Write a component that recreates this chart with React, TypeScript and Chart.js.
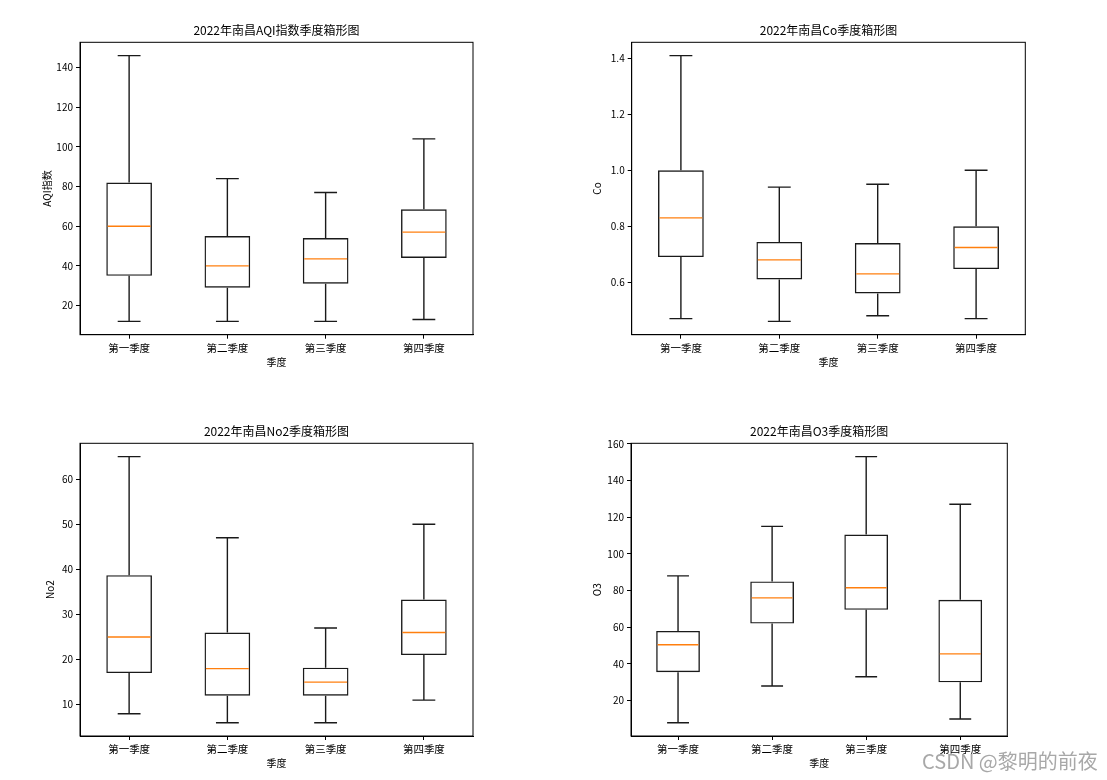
import React, { useEffect, useRef } from 'react';
import { Chart, registerables } from 'chart.js';

Chart.register(...registerables);

const FONT = '"Noto Sans CJK SC", "DejaVu Sans", sans-serif';

// ---- data ----
const categories = ['第一季度', '第二季度', '第三季度', '第四季度'];

const aqiMin = [12, 12, 12, 13];
const aqiQ1 = [35, 29, 31, 44];
const aqiMed = [60, 40, 43.5, 57];
const aqiQ3 = [82, 55, 54, 68.5];
const aqiMax = [146, 84, 77, 104];
const aqiTicks = [20, 40, 60, 80, 100, 120, 140];

const coMin = [0.47, 0.46, 0.48, 0.47];
const coQ1 = [0.69, 0.61, 0.56, 0.647];
const coMed = [0.83, 0.68, 0.63, 0.724];
const coQ3 = [1.0, 0.744, 0.74, 0.8];
const coMax = [1.41, 0.94, 0.95, 1.0];
const coTicks = [0.6, 0.8, 1.0, 1.2, 1.4];

const no2Min = [8, 6, 6, 11];
const no2Q1 = [17, 12, 12, 21];
const no2Med = [25, 18, 15, 26];
const no2Q3 = [38.7, 26, 18.2, 33.3];
const no2Max = [65, 47, 27, 50];
const no2Ticks = [10, 20, 30, 40, 50, 60];

const o3Min = [8, 28, 33, 10];
const o3Q1 = [35.5, 62, 69.5, 30];
const o3Med = [50.5, 76, 81.5, 45.5];
const o3Q3 = [58, 85, 110.5, 75];
const o3Max = [88, 115, 153, 127];
const o3Ticks = [20, 40, 60, 80, 100, 120, 140, 160];

const LINE = '#1a1a1a';
const LW = 1.4;

// ---- layout specs (positions only) ----
const specs = [
  {
    key: 'aqi', title: '2022年南昌AQI指数季度箱形图', yTitle: 'AQI指数',
    min: aqiMin, q1: aqiQ1, med: aqiMed, q3: aqiQ3, max: aqiMax, ticks: aqiTicks,
    yMin: 5.3, yMax: 152.7, decimals: 0,
    x: 0, y: 0, w: 553, h: 390,
    padL: 41, yWidth: 39, padR: 80, padB: 15.3, titleTop: 22.8, titleBottom: 5.1,
  },
  {
    key: 'co', title: '2022年南昌Co季度箱形图', yTitle: 'Co',
    min: coMin, q1: coQ1, med: coMed, q3: coQ3, max: coMax, ticks: coTicks,
    yMin: 0.4125, yMax: 1.4575, decimals: 1,
    x: 553, y: 0, w: 554, h: 390,
    padL: 38.7, yWidth: 40, padR: 81.7, padB: 15.3, titleTop: 22.8, titleBottom: 5.1,
  },
  {
    key: 'no2', title: '2022年南昌No2季度箱形图', yTitle: 'No2',
    min: no2Min, q1: no2Q1, med: no2Med, q3: no2Q3, max: no2Max, ticks: no2Ticks,
    yMin: 3.05, yMax: 67.95, decimals: 0,
    x: 0, y: 390, w: 553, h: 390,
    padL: 44, yWidth: 36, padR: 80, padB: 4, titleTop: 34.5, titleBottom: 4.4,
  },
  {
    key: 'o3', title: '2022年南昌O3季度箱形图', yTitle: 'O3',
    min: o3Min, q1: o3Q1, med: o3Med, q3: o3Q3, max: o3Max, ticks: o3Ticks,
    yMin: 0.75, yMax: 160.25, decimals: 0,
    x: 553, y: 390, w: 554, h: 390,
    padL: 38.7, yWidth: 39.3, padR: 99.7, padB: 4, titleTop: 34.5, titleBottom: 4.4,
  },
];

function makeBoxPlugin(s: any) {
  return {
    id: 'boxWhiskers_' + s.key,
    afterDatasetsDraw(chart: any) {
      const { ctx } = chart;
      const yScale = chart.scales.y;
      const meta = chart.getDatasetMeta(0);
      ctx.save();
      ctx.lineWidth = LW;
      meta.data.forEach((bar: any, i: number) => {
        const x = bar.x;
        const w = bar.width;
        const yMin = yScale.getPixelForValue(s.min[i]);
        const yQ1 = yScale.getPixelForValue(s.q1[i]);
        const yMed = yScale.getPixelForValue(s.med[i]);
        const yQ3 = yScale.getPixelForValue(s.q3[i]);
        const yMax = yScale.getPixelForValue(s.max[i]);
        ctx.strokeStyle = LINE;
        ctx.beginPath();
        ctx.moveTo(x, yQ3);
        ctx.lineTo(x, yMax);
        ctx.moveTo(x, yQ1);
        ctx.lineTo(x, yMin);
        ctx.moveTo(x - w / 4, yMax);
        ctx.lineTo(x + w / 4, yMax);
        ctx.moveTo(x - w / 4, yMin);
        ctx.lineTo(x + w / 4, yMin);
        ctx.stroke();
        ctx.strokeStyle = '#ff7f0e';
        ctx.beginPath();
        ctx.moveTo(x - w / 2 + LW, yMed);
        ctx.lineTo(x + w / 2 - LW, yMed);
        ctx.stroke();
      });
      const a = chart.chartArea;
      ctx.lineWidth = 1;
      ctx.strokeStyle = '#000';
      ctx.strokeRect(a.left, a.top, a.right - a.left, a.bottom - a.top);
      ctx.restore();
    },
  };
}

function BoxChart({ s }: { s: any }) {
  const ref = useRef<HTMLCanvasElement | null>(null);
  useEffect(() => {
    if (!ref.current) return;
    const chart = new Chart(ref.current, {
      type: 'bar',
      data: {
        labels: categories,
        datasets: [
          {
            data: s.q1.map((v: number, i: number) => [v, s.q3[i]]),
            backgroundColor: 'rgba(255,255,255,0)',
            borderColor: LINE,
            borderWidth: LW,
            borderSkipped: false,
            barPercentage: 0.465,
            categoryPercentage: 1,
          } as any,
        ],
      },
      options: {
        animation: false,
        responsive: false,
        devicePixelRatio: 1,
        events: [],
        layout: { padding: { left: s.padL, right: s.padR, top: 0, bottom: s.padB } },
        plugins: {
          legend: { display: false },
          tooltip: { enabled: false },
          title: {
            display: true,
            text: s.title,
            fullSize: false,
            color: '#000',
            font: { family: FONT, size: 12, weight: 'normal' },
            padding: { top: s.titleTop, bottom: s.titleBottom },
          },
        },
        scales: {
          x: {
            type: 'category',
            grid: { offset: false, drawOnChartArea: false, drawTicks: true, tickLength: 4, color: '#000' },
            border: { display: true, color: '#000' },
            ticks: { color: '#000', font: { family: FONT, size: 10.5 }, padding: 3, maxRotation: 0, autoSkip: false },
            title: {
              display: true,
              text: '季度',
              color: '#000',
              font: { family: FONT, size: 10 },
              padding: { top: 0, bottom: 6.7 },
            },
            afterFit: (sc: any) => { sc.height = 40; },
          },
          y: {
            type: 'linear',
            min: s.yMin,
            max: s.yMax,
            afterBuildTicks: (sc: any) => { sc.ticks = s.ticks.map((v: number) => ({ value: v })); },
            grid: { drawOnChartArea: false, drawTicks: true, tickLength: 4, color: '#000' },
            border: { display: true, color: '#000' },
            ticks: {
              color: '#000',
              font: { family: FONT, size: 10 },
              padding: 3,
              callback: (v: any) => Number(v).toFixed(s.decimals),
            },
            title: {
              display: true,
              text: s.yTitle,
              color: '#000',
              font: { family: FONT, size: 10 },
              padding: { top: 0, bottom: 0 },
            },
            afterFit: (sc: any) => { sc.width = s.yWidth; },
          },
        },
      } as any,
      plugins: [makeBoxPlugin(s)],
    });
    return () => chart.destroy();
  }, []);
  return (
    <canvas
      ref={ref}
      width={s.w}
      height={s.h}
      style={{ position: 'absolute', left: s.x, top: s.y, width: s.w, height: s.h }}
    />
  );
}

export default function App() {
  return (
    <div style={{ position: 'absolute', left: 0, top: 0, width: 1107, height: 780, background: '#fff', overflow: 'hidden' }}>
      {specs.map((s) => (
        <BoxChart key={s.key} s={s} />
      ))}
      <div
        style={{
          position: 'absolute',
          left: 922,
          top: 749,
          fontFamily: FONT,
          fontSize: 20,
          lineHeight: '24px',
          color: '#a8a8a8',
          whiteSpace: 'nowrap',
        }}
      >
        CSDN @黎明的前夜
      </div>
    </div>
  );
}
